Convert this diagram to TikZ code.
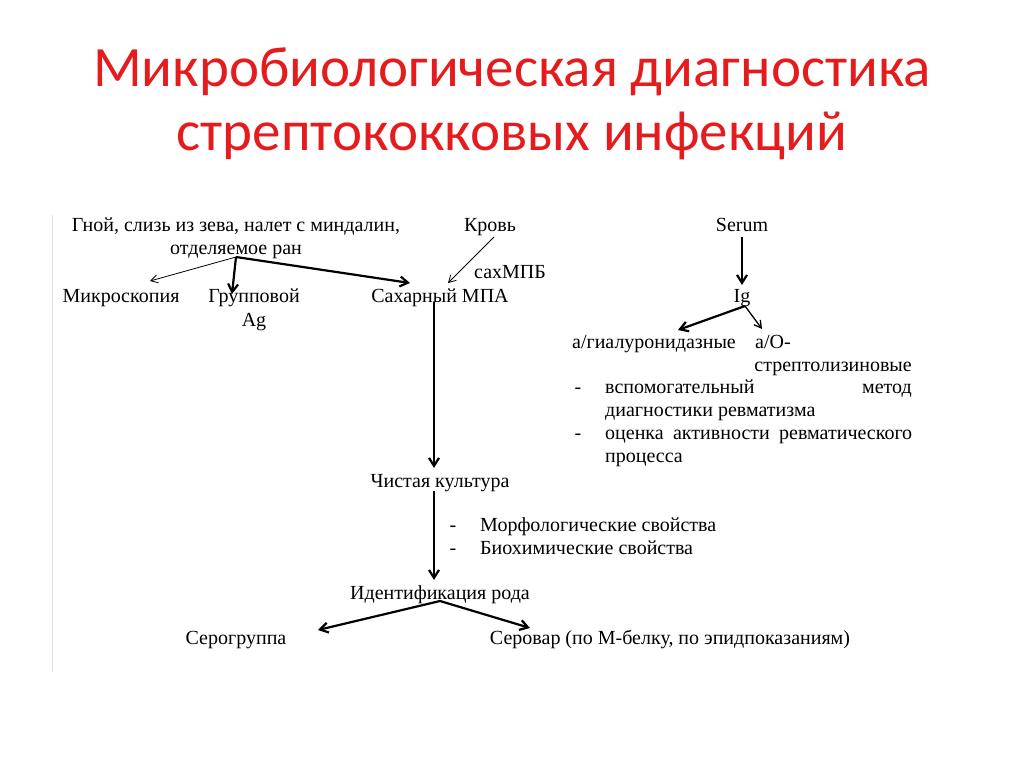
\documentclass[tikz,border=0pt]{standalone}
\usepackage{fontspec}
\setmainfont{Liberation Serif}
\newfontfamily\titlefont{Carlito}
\usetikzlibrary{arrows.meta}
\definecolor{titlered}{RGB}{228,28,30}

\begin{document}
\begin{tikzpicture}[x=1pt, y=-1pt,
    lbl/.style={font=\fontsize{20}{23}\selectfont, inner sep=0pt, anchor=base},
    ttl/.style={font=\titlefont\fontsize{57}{64}\selectfont, color=titlered, inner sep=0pt, anchor=base},
    thinarrow/.style={-{Straight Barb[length=7pt,width=8pt]}, line width=0.8pt},
    thickarrow/.style={-{Straight Barb[length=8pt,width=10pt]}, line width=2.2pt}]
  \useasboundingbox[fill=white] (0,0) rectangle (1024,768);

  % title
  \node[ttl] (title1) at (512,86) {Микробиологическая диагностика};
  \node[ttl] (title2) at (512,150) {стрептококковых инфекций};

  % faint edge of the scheme
  \draw[black!12, line width=0.8pt] (52,215) -- (52,672);

  % left branch
  \node[lbl] (gnoy) at (236,231) {Гной, слизь из зева, налет с миндалин,};
  \node[lbl] (gnoy2) at (236,254) {отделяемое ран};
  \node[lbl] (krov) at (490,231) {Кровь};
  \node[lbl] (sakhmpb) at (510,278) {сахМПБ};
  \node[lbl] (mikro) at (121,302) {Микроскопия};
  \node[lbl] (grup) at (254,302) {Групповой};
  \node[lbl] (ag) at (254,326) {Ag};
  \node[lbl] (sakh) at (440,302) {Сахарный МПА};
  \node[lbl] (chist) at (440,487) {Чистая культура};
  \node[lbl] (dash1) at (453,531) {-};
  \node[lbl, anchor=base west] (morf) at (480,531) {Морфологические свойства};
  \node[lbl] (dash2) at (453,554) {-};
  \node[lbl, anchor=base west] (biokh) at (480,554) {Биохимические свойства};
  \node[lbl] (ident) at (440,599) {Идентификация рода};
  \node[lbl] (serogr) at (236,644) {Серогруппа};
  \node[lbl] (serovar) at (670,644) {Серовар (по М-белку, по эпидпоказаниям)};

  % right branch
  \node[lbl] (serum) at (742,231) {Serum};
  \node[lbl] (ig) at (742,302) {Ig};
  \node[lbl] (hyal) at (654,348) {а/гиалуронидазные};
  \node[lbl, anchor=base west] (ao) at (755,348) {а/О-};
  \node[lbl, anchor=base east] (strept) at (912,371) {стрептолизиновые};
  \node[lbl] (dash3) at (578,393) {-};
  \node[lbl, anchor=base west] (vspom) at (605,393) {вспомогательный};
  \node[lbl, anchor=base east] (metod) at (912,393) {метод};
  \node[lbl, anchor=base west] (diagn) at (605,416) {диагностики ревматизма};
  \node[lbl] (dash4) at (578,439) {-};
  \node[lbl, anchor=base west] (otsenka) at (605,439) {\makebox[307pt][s]{оценка\hfill активности\hfill ревматического}};
  \node[lbl, anchor=base west] (protsess) at (605,462) {процесса};

  % arrows
  \coordinate (gsplit) at ([yshift=-3pt]gnoy2.base);
  \draw[thinarrow] (gsplit) -- ([xshift=29pt,yshift=21pt]mikro.base);
  \draw[thickarrow] (gsplit) -- ([xshift=-22pt,yshift=8pt]grup.base);
  \draw[thickarrow] (gsplit) -- ([xshift=-30pt,yshift=19pt]sakh.base);
  \draw[thinarrow] ([xshift=4pt,yshift=-6pt]krov.base) -- ([xshift=8pt,yshift=19pt]sakh.base);
  \draw[thickarrow] ([xshift=-6pt]sakh.base) -- ([xshift=-6pt,yshift=19pt]chist.base);
  \draw[thickarrow] ([xshift=-6pt,yshift=-4pt]chist.base) -- ([xshift=-6pt,yshift=19pt]ident.base);
  \coordinate (isplit) at ([yshift=-2pt]ident.base);
  \draw[thickarrow] (isplit) -- ([xshift=82pt,yshift=14pt]serogr.base);
  \draw[thickarrow] (isplit) -- ([xshift=-140pt,yshift=16pt]serovar.base);
  \draw[thickarrow] ([yshift=-6pt]serum.base) -- ([yshift=17pt]ig.base);
  \coordinate (igsplit) at ([xshift=3pt,yshift=-4pt]ig.base);
  \draw[thickarrow] (igsplit) -- ([xshift=24pt,yshift=18pt]hyal.base);
  \draw[thinarrow, line width=1.3pt] (igsplit) -- ([xshift=7pt,yshift=19pt]ao.base west);
\end{tikzpicture}
\end{document}
